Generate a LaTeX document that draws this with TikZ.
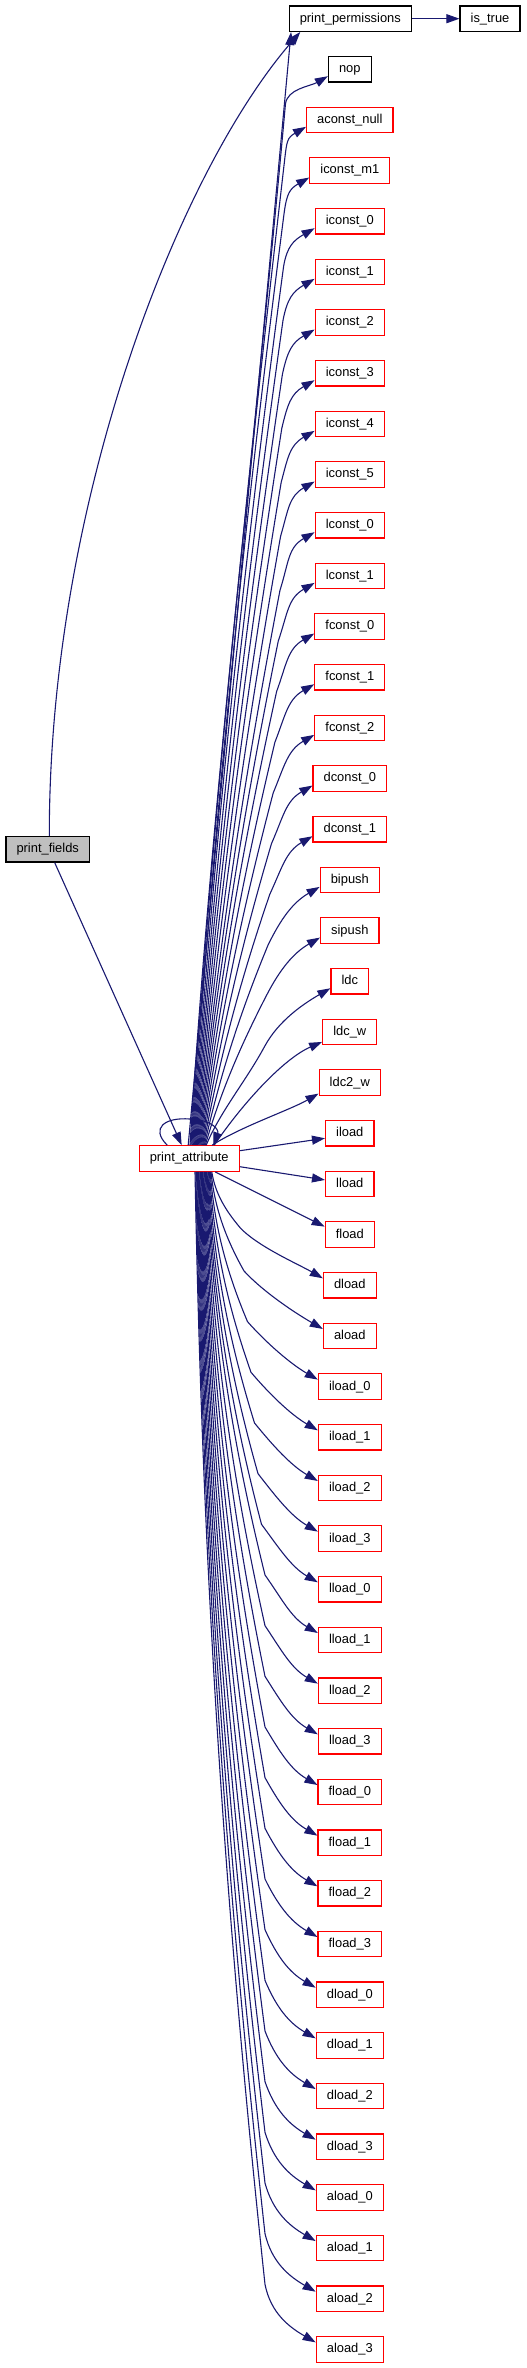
\documentclass[tikz,border=0pt]{standalone}
\usepackage{fontspec}
\setmainfont{Liberation Sans}
\usetikzlibrary{arrows.meta,calc}
\definecolor{edgeblue}{RGB}{25,25,112}
\definecolor{fillgray}{RGB}{191,191,191}
\definecolor{boxred}{RGB}{255,0,0}
\tikzset{
  fn/.style={draw=black, line width=1.2pt, minimum height=25.5pt, inner xsep=10.6pt, inner ysep=0pt,
     text height=9.4pt, text depth=2.6pt, font=\fontsize{12.9}{15}\selectfont, fill=white},
  fnred/.style={fn, draw=boxred},
  fncur/.style={fn, fill=fillgray},
  edge/.style={draw=edgeblue, line width=1.1pt, -{Triangle[length=13pt,width=9pt]}},
}
\begin{document}
\begin{tikzpicture}[x=1pt,y=-1pt]
\useasboundingbox (0,0) rectangle (527,2368);
\node[fncur] (pf) at (47.7,849.3) {print\_fields};
\node[fnred] (pa) at (189.2,1158.5) {print\_attribute};
\node[fn] (pp) at (350.3,18.7) {print\_permissions};
\node[fn] (it) at (490,18.7) {is\_true};
\foreach \r/\lab in {0/nop, 1/aconst\_null, 2/iconst\_m1, 3/iconst\_0, 4/iconst\_1, 5/iconst\_2,
  6/iconst\_3, 7/iconst\_4, 8/iconst\_5, 9/lconst\_0, 10/lconst\_1, 11/fconst\_0, 12/fconst\_1,
  13/fconst\_2, 14/dconst\_0, 15/dconst\_1, 16/bipush, 17/sipush, 18/ldc, 19/ldc\_w, 20/ldc2\_w,
  21/iload, 22/lload, 23/fload, 24/dload, 25/aload, 26/iload\_0, 27/iload\_1, 28/iload\_2,
  29/iload\_3, 30/lload\_0, 31/lload\_1, 32/lload\_2, 33/lload\_3, 34/fload\_0, 35/fload\_1,
  36/fload\_2, 37/fload\_3, 38/dload\_0, 39/dload\_1, 40/dload\_2, 41/dload\_3, 42/aload\_0,
  43/aload\_1, 44/aload\_2, 45/aload\_3} {
  \pgfmathsetmacro\vty{69.2+50.67*\r}
  \ifnum\r=0
    \node[fn] (n\r) at (349.8,\vty) {\lab};
  \else
    \node[fnred] (n\r) at (349.8,\vty) {\lab};
  \fi
}
% fixed edges
\draw[edge] (pp.east) -- (it.west);
\draw[edge] ($(pf.north)+(1.6,0)$) .. controls (49,500) and (180,170) .. ($(pp.south west)+(11.7,0)$);
\draw[edge] ($(pf.south)+(7,0)$) -- ($(pa.north)+(-7.5,0)$);
\draw[edge] ($(pa.north)+(-1,0)$) -- ($(pp.south west)+(2.5,0)$);
\draw[edge] ($(pa.north)+(-22,0)$) .. controls (150,1128) and (165,1117) .. (190,1119)
   .. controls (213,1120) and (219,1130) .. ($(pa.north)+(24,0)$);
% upward edges
\foreach \r in {0,...,18} {
  \pgfmathsetmacro\vty{69.2+50.67*\r}
  \pgfmathsetmacro\vn{21-\r}
  \pgfmathsetmacro\vsx{190+0.9*\r}
  \pgfmathsetmacro\vh{min(65-max(0,\vn-12)*3.3, 0.5*(1146-\vty))}
  \pgfmathsetmacro\vfy{\vty+\vh}
  \pgfmathsetmacro\vfx{280-max(0,12-\vn)*1.7+max(0,\vn-12)*0.6}
  \pgfmathsetmacro\vd{1146-\vfy}
  \pgfmathsetmacro\vc{(\vfx-\vsx)/\vd}
  \pgfmathsetmacro\vm{0.09+0.025*\r}
  \pgfmathsetmacro\vmo{min(\vm,1.3*\vc)}
  \pgfmathsetmacro\vmz{0.7*\vc}
  \pgfmathsetmacro\vcax{\vsx+0.35*\vd*\vmz}
  \pgfmathsetmacro\vcay{1146-0.35*\vd}
  \pgfmathsetmacro\vcbx{\vfx-0.35*\vd*\vmo}
  \pgfmathsetmacro\vcby{\vfy+0.35*\vd}
  \pgfmathsetmacro\vl{0.45*\vh/sqrt(1+\vm*\vm)}
  \pgfmathsetmacro\vcx{\vfx+\vl*\vm}
  \pgfmathsetmacro\vcy{\vfy-\vl}
  \pgfmathsetmacro\vk{0.35*\vh+8}
  \pgfmathsetmacro\vkx{-0.866*\vk}
  \pgfmathsetmacro\vky{7+0.5*\vk}
  \pgfmathsetmacro\vdsx{\vsx-189.2}
  \draw[edge] ($(pa.north)+(\vdsx,0)$) .. controls (\vcax,\vcay) and (\vcbx,\vcby) .. (\vfx,\vfy)
     .. controls (\vcx,\vcy) and ($(n\r.west)+(\vkx,\vky)$) .. ($(n\r.west)+(0,7)$);
}
% near edges
\draw[edge] ($(pa.north)+(25,0)$) .. controls (245,1100) and (285,1058) .. ($(n19.west)+(0,10)$);
\draw[edge] ($(pa.north)+(23,0)$) .. controls (240,1127) and (290,1110) .. ($(n20.west)+(0,11)$);
\draw[edge] ($(pa.east)+(0,-7.8)$) -- ($(n21.west)+(0,5)$);
\draw[edge] ($(pa.east)+(0,8.2)$) -- ($(n22.west)+(0,-4)$);
\draw[edge] ($(pa.south)+(26,0)$) -- ($(n23.west)+(0,-8)$);
% downward edges
\foreach \r in {24,...,45} {
  \pgfmathsetmacro\vty{69.2+50.67*\r}
  \pgfmathsetmacro\vn{\r-21}
  \pgfmathsetmacro\vsx{195+0.8*(24-\vn)}
  \pgfmathsetmacro\vh{min(65, 0.5*(\vty-1171))}
  \pgfmathsetmacro\vfy{\vty-\vh}
  \pgfmathsetmacro\vfx{265-max(0,10-\vn)*3.5}
  \pgfmathsetmacro\vd{\vfy-1171}
  \pgfmathsetmacro\vc{(\vfx-\vsx)/\vd}
  \pgfmathsetmacro\vm{0.2+0.036*(24-\vn)}
  \pgfmathsetmacro\vmo{min(\vm,1.7*\vc)}
  \pgfmathsetmacro\vmz{0.3*\vc}
  \pgfmathsetmacro\vcax{\vsx+0.35*\vd*\vmz}
  \pgfmathsetmacro\vcay{1171+0.35*\vd}
  \pgfmathsetmacro\vcbx{\vfx-0.35*\vd*\vmo}
  \pgfmathsetmacro\vcby{\vfy-0.35*\vd}
  \pgfmathsetmacro\vl{0.45*\vh/sqrt(1+\vm*\vm)}
  \pgfmathsetmacro\vcx{\vfx+\vl*\vm}
  \pgfmathsetmacro\vcy{\vfy+\vl}
  \pgfmathsetmacro\vk{0.35*\vh+8}
  \pgfmathsetmacro\vkx{-0.866*\vk}
  \pgfmathsetmacro\vky{-7-0.5*\vk}
  \pgfmathsetmacro\vdsx{\vsx-189.2}
  \draw[edge] ($(pa.south)+(\vdsx,0)$) .. controls (\vcax,\vcay) and (\vcbx,\vcby) .. (\vfx,\vfy)
     .. controls (\vcx,\vcy) and ($(n\r.west)+(\vkx,\vky)$) .. ($(n\r.west)+(0,-7)$);
}
\end{tikzpicture}
\end{document}
